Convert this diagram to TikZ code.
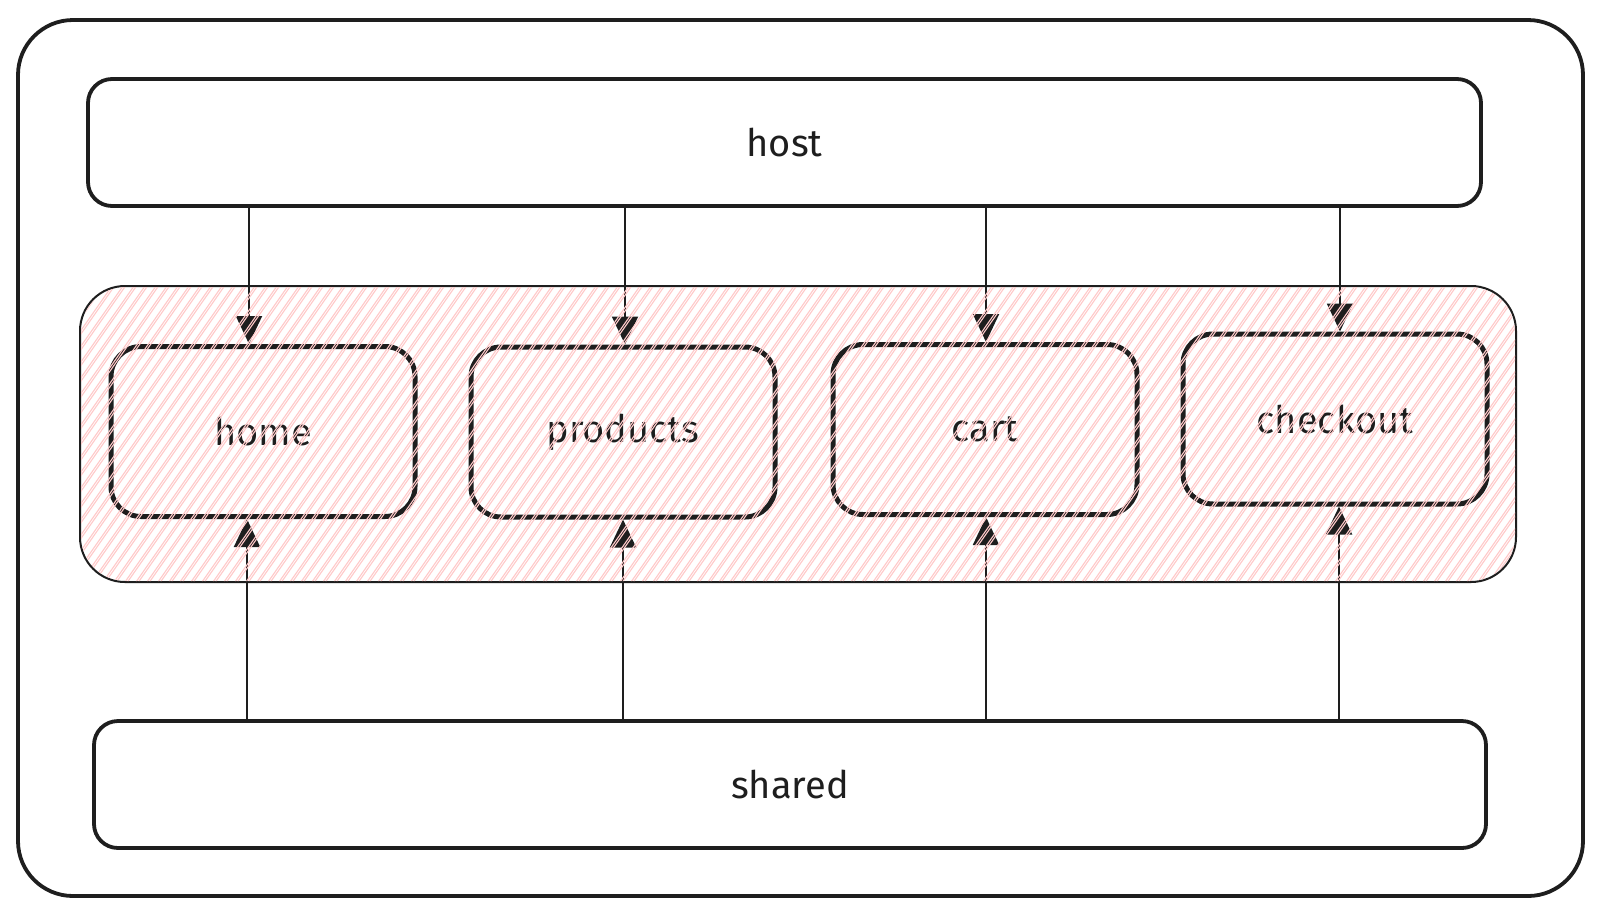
\documentclass[tikz,border=0pt]{standalone}
\usepackage{fontspec}
\setmainfont{Fira Sans}
\usetikzlibrary{arrows.meta}
\definecolor{hatch}{HTML}{FFC9C9}
\definecolor{ink}{HTML}{1E1E1E}
\begin{document}
\begin{tikzpicture}[x=1pt,y=-1pt,
  solidbox/.style={draw=ink, line width=3.8pt, rounded corners=24pt, inner sep=0pt},
  appbox/.style={draw=ink, line width=5pt, rounded corners=30pt, inner sep=0pt, minimum width=304pt, minimum height=170pt},
  lbl/.style={font=\fontsize{38}{44}\selectfont, text=ink},
  arr/.style={draw=ink, line width=2pt, -{Triangle[length=28pt,width=26pt]}},
  hatchline/.style={draw=hatch, line width=1.1pt}]
\useasboundingbox (0,0) rectangle (1601,914);
\fill[white] (0,0) rectangle (1601,914);
% outer frame
\node[draw=ink, line width=3.8pt, rounded corners=55pt, minimum width=1565pt, minimum height=876pt] (outer) at (800.5,458) {};
% group frame
\node[draw=ink, line width=2pt, rounded corners=45pt, minimum width=1436pt, minimum height=296pt] (group) at (798,434) {};
% host and shared
\node[solidbox, minimum width=1393pt, minimum height=127pt, lbl] (host) at (784.5,142.5) {host};
\node[solidbox, minimum width=1392pt, minimum height=127pt, lbl] (shared) at (790,784.5) {shared};
% apps
\node[appbox, lbl] (home) at (263,431.5) {home};
\node[appbox, lbl] (products) at (623,432) {products};
\node[appbox, lbl] (cart) at (985,429.5) {cart};
\node[appbox, lbl] (checkout) at (1335,419) {checkout};
% arrow columns
\coordinate (t1) at (249,0); \coordinate (t2) at (625,0); \coordinate (t3) at (986,0); \coordinate (t4) at (1340,0);
\coordinate (b1) at (247,0); \coordinate (b2) at (623,0); \coordinate (b3) at (986,0); \coordinate (b4) at (1339,0);
\draw[arr] (t1 |- host.south) -- (t1 |- home.north);
\draw[arr] (t2 |- host.south) -- (t2 |- products.north);
\draw[arr] (t3 |- host.south) -- (t3 |- cart.north);
\draw[arr] (t4 |- host.south) -- (t4 |- checkout.north);
\draw[arr] (b1 |- shared.north) -- (b1 |- home.south);
\draw[arr] (b2 |- shared.north) -- (b2 |- products.south);
\draw[arr] (b3 |- shared.north) -- (b3 |- cart.south);
\draw[arr] (b4 |- shared.north) -- (b4 |- checkout.south);
% hatch of the group, drawn over its content
\begin{scope}
  \clip[rounded corners=45pt] (81,287) rectangle (1515,581);
  \foreach \i in {0,...,160} {
    \draw[hatchline] ({\i*11-205},582) -- ++(207,-296);
    \draw[hatchline] ({\i*11-202.5},582) -- ++(207,-296);
  }
\end{scope}
\end{tikzpicture}
\end{document}
